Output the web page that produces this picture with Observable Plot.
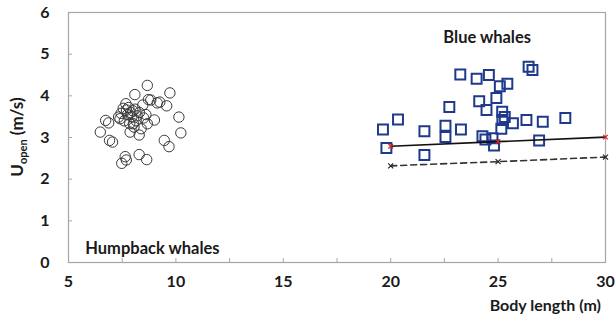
<!DOCTYPE html>
<html>
<head>
<meta charset="utf-8">
<script src="https://cdn.jsdelivr.net/npm/d3@7"></script>
<script src="https://cdn.jsdelivr.net/npm/@observablehq/plot@0.6"></script>
<style>
  html, body { margin: 0; padding: 0; background: #fff; }
  #chart { width: 616px; height: 321px; }
</style>
</head>
<body>
<div id="chart"></div>
<script>
// Humpback whales (body length m, U_open m/s)
const humpbackLength = [8.67, 8.09, 9.72, 8.72, 9.13, 9.57, 8.46, 7.67, 10.14, 10.23, 6.48, 6.73, 6.87, 6.91, 7.05, 7.33,
  7.87, 8.29, 8.38, 8.67, 9.0, 8.02, 9.46, 9.68, 7.64, 7.48, 7.69, 8.29, 8.64, 8.83, 9.25, 8.1, 8.6, 7.45, 7.55,
  7.8, 7.9, 8.0, 8.2, 8.3, 8.5, 7.7, 7.75, 7.95, 8.15, 7.85, 7.6, 7.4, 8.05];
const humpbackU = [4.25, 4.03, 4.07, 3.91, 3.83, 3.76, 3.78, 3.81, 3.49, 3.11, 3.13, 3.41, 3.35, 2.93, 2.89, 3.49,
  3.13, 3.06, 3.21, 3.33, 3.42, 3.33, 2.93, 2.78, 2.54, 2.38, 2.46, 2.59, 2.47, 3.9, 3.85, 3.68, 3.55, 3.58, 3.7,
  3.72, 3.6, 3.64, 3.52, 3.6, 3.47, 3.66, 3.55, 3.5, 3.4, 3.33, 3.4, 3.45, 3.25];
// Blue whales
const blueLength = [19.64, 20.34, 19.8, 21.57, 21.57, 22.55, 22.55, 22.73, 23.27, 23.24, 24.0, 24.57, 24.12, 24.46,
  24.92, 25.08, 25.43, 25.19, 25.31, 25.2, 25.15, 25.69, 26.32, 26.42, 26.6, 27.08, 28.13, 26.91, 24.27, 24.41,
  24.74, 24.81];
const blueU = [3.19, 3.43, 2.75, 3.15, 2.58, 3.28, 3.01, 3.73, 3.19, 4.51, 4.41, 4.5, 3.87, 3.66,
  3.95, 4.23, 4.29, 3.62, 3.49, 3.42, 3.21, 3.34, 3.42, 4.7, 4.62, 3.38, 3.47, 2.93, 3.03, 2.95,
  2.98, 2.81];
// Fitted lines
const fitX = [20, 25, 30];
const solidFitY = [2.79, 2.9, 3.01];
const dashedFitY = [2.32, 2.42, 2.53];
// Axis ticks
const xMinorTicks = [5, 7.5, 10, 12.5, 15, 17.5, 20, 22.5, 25, 27.5, 30];
const xLabelTicks = [5, 10, 15, 20, 25, 30];
const yTicks = [0, 1, 2, 3, 4, 5, 6];
// Annotations
const labelText = ["Humpback whales", "Blue whales"];
const labelX = [5.78, 22.45];
const labelY = [0.33, 5.4];

const humpback = humpbackLength.map((x, i) => ({x, y: humpbackU[i]}));
const blue = blueLength.map((x, i) => ({x, y: blueU[i]}));
const solid = fitX.map((x, i) => ({x, y: solidFitY[i]}));
const dashed = fitX.map((x, i) => ({x, y: dashedFitY[i]}));
const labels = labelText.map((t, i) => ({t, x: labelX[i], y: labelY[i]}));

const axisColor = "#a6a6a6";
const font = "Lato, 'Open Sans', sans-serif";

const chart = Plot.plot({
  width: 616,
  height: 321,
  marginLeft: 68,
  marginRight: 11,
  marginTop: 12,
  marginBottom: 59,
  style: {fontFamily: font, fontSize: "16px", fontWeight: "bold", color: "#1a1a1a", background: "#fff"},
  x: {domain: [5, 30]},
  y: {domain: [0, 6]},
  marks: [
    Plot.frame({stroke: axisColor, strokeWidth: 1.2}),
    Plot.axisX(xMinorTicks, {tickSize: -4, tickFormat: () => "", stroke: axisColor, label: null}),
    Plot.axisX(xLabelTicks, {tickSize: 0, tickPadding: 13, label: null, fill: "#1a1a1a"}),
    Plot.axisY(yTicks, {tickSize: -4, tickPadding: 23, stroke: axisColor, label: null, fill: "#1a1a1a"}),
    Plot.dot(humpback, {x: "x", y: "y", r: 5.2, stroke: "#3a3a3a", strokeWidth: 1, fill: "none"}),
    Plot.dot(blue, {x: "x", y: "y", symbol: "square", r: 5.6, stroke: "#1f3a8a", strokeWidth: 2, fill: "none"}),
    Plot.line(solid, {x: "x", y: "y", stroke: "#111", strokeWidth: 1.6}),
    Plot.dot(solid, {x: "x", y: "y", symbol: "times", r: 2.2, stroke: "#e02020", strokeWidth: 1.2}),
    Plot.line(dashed, {x: "x", y: "y", stroke: "#333", strokeWidth: 1.6, strokeDasharray: "6,4"}),
    Plot.dot(dashed, {x: "x", y: "y", symbol: "times", r: 2.4, stroke: "#222", strokeWidth: 1.2}),
    Plot.text(labels, {x: "x", y: "y", text: "t", textAnchor: "start", fontSize: 16.5, fontWeight: "bold", fill: "#1a1a1a"})
  ]
});

const svg = d3.select(chart);
// x axis title
svg.append("text")
  .attr("x", 601).attr("y", 311)
  .attr("text-anchor", "end")
  .attr("font-family", font).attr("font-weight", "bold").attr("font-size", 16)
  .attr("fill", "#1a1a1a")
  .text("Body length (m)");
// y axis title with subscript
const yt = svg.append("text")
  .attr("transform", "translate(23,137) rotate(-90)")
  .attr("text-anchor", "middle")
  .attr("font-family", font).attr("font-weight", "bold").attr("font-size", 17)
  .attr("fill", "#1a1a1a");
yt.append("tspan").text("U");
yt.append("tspan").attr("font-size", 11).attr("dy", 4).text("open");
yt.append("tspan").attr("dy", -4).text(" (m/s)");

document.getElementById("chart").appendChild(chart);
</script>
</body>
</html>
